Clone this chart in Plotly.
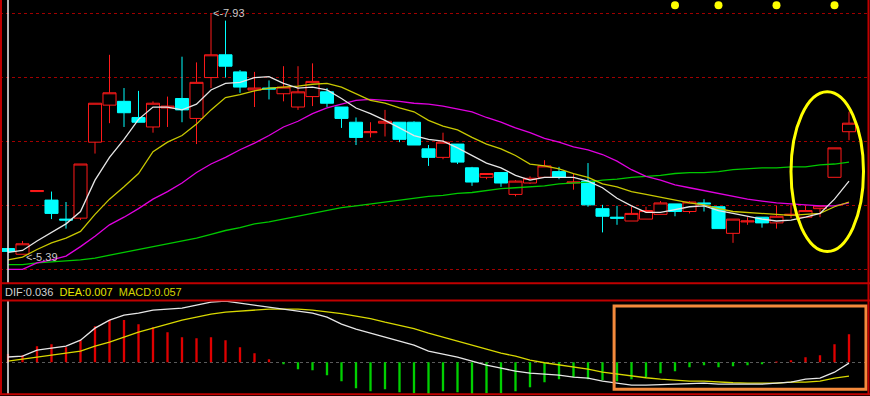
import plotly.graph_objects as go

# ---------------- data ----------------
idx = list(range(59))

opens = [5.45, 5.39, 6.05, 5.96, 5.76, 5.77, 6.57, 6.96, 7.00, 6.83, 6.73, 6.93, 7.03, 6.82, 7.25,
         7.49, 7.31, 7.12, 7.14, 7.08, 6.94, 7.05, 7.10, 6.94, 6.78, 6.67, 6.77, 6.78, 6.78, 6.50,
         6.41, 6.55, 6.30, 6.20, 6.25, 6.02, 6.14, 6.20, 6.26, 6.14, 6.16, 5.87, 5.78, 5.74, 5.76,
         5.81, 5.92, 5.84, 5.93, 5.89, 5.61, 5.73, 5.78, 5.72, 5.80, 5.78, 5.87, 6.20, 6.68]
highs = [5.45, 5.53, 6.06, 6.05, 5.94, 6.34, 6.98, 7.49, 7.14, 7.11, 7.00, 7.05, 7.47, 7.41, 7.93,
         7.85, 7.33, 7.31, 7.22, 7.37, 7.37, 7.40, 7.14, 6.94, 6.83, 6.78, 6.91, 6.78, 6.79, 6.54,
         6.67, 6.55, 6.31, 6.24, 6.25, 6.17, 6.21, 6.38, 6.31, 6.24, 6.35, 5.91, 5.90, 5.89, 5.89,
         5.95, 5.92, 5.95, 5.97, 5.89, 5.76, 5.78, 5.78, 5.90, 5.91, 5.90, 5.90, 6.51, 6.89]
lows = [5.42, 5.39, 6.05, 5.76, 5.66, 5.75, 6.45, 6.77, 6.73, 6.78, 6.67, 6.73, 6.78, 6.55, 7.14,
        7.25, 7.09, 6.94, 7.02, 7.00, 6.91, 6.95, 6.94, 6.72, 6.54, 6.62, 6.63, 6.57, 6.54, 6.32,
        6.39, 6.34, 6.11, 6.18, 6.10, 6.00, 6.13, 6.20, 6.18, 6.07, 5.89, 5.62, 5.70, 5.74, 5.76,
        5.81, 5.79, 5.82, 5.84, 5.66, 5.51, 5.70, 5.67, 5.66, 5.77, 5.78, 5.78, 6.20, 6.59]
closes = [5.42, 5.50, 6.06, 5.82, 5.75, 6.34, 6.98, 7.09, 6.88, 6.78, 6.98, 6.95, 6.91, 7.20, 7.49,
          7.37, 7.15, 7.14, 7.13, 7.15, 7.10, 7.21, 6.98, 6.82, 6.62, 6.68, 6.79, 6.60, 6.54, 6.41,
          6.57, 6.36, 6.15, 6.24, 6.14, 6.16, 6.19, 6.32, 6.20, 6.15, 5.91, 5.79, 5.77, 5.82, 5.85,
          5.93, 5.84, 5.94, 5.92, 5.66, 5.76, 5.74, 5.72, 5.79, 5.81, 5.85, 5.90, 6.51, 6.77]

ma5 = [5.41, 5.43, 5.53, 5.62, 5.71, 5.84, 6.17, 6.41, 6.60, 6.81, 6.94, 6.94, 6.91, 6.97, 7.12,
       7.19, 7.20, 7.25, 7.26, 7.19, 7.14, 7.15, 7.12, 7.03, 6.93, 6.87, 6.80, 6.72, 6.64, 6.60,
       6.58, 6.51, 6.43, 6.35, 6.30, 6.22, 6.17, 6.20, 6.20, 6.20, 6.16, 6.09, 5.98, 5.90, 5.83,
       5.83, 5.86, 5.89, 5.90, 5.85, 5.82, 5.79, 5.76, 5.74, 5.75, 5.78, 5.82, 5.97, 6.16]
ma10 = [5.33, 5.36, 5.44, 5.51, 5.56, 5.63, 5.81, 5.97, 6.10, 6.24, 6.47, 6.57, 6.64, 6.76, 6.91,
        7.04, 7.07, 7.11, 7.14, 7.15, 7.16, 7.18, 7.19, 7.15, 7.08, 7.01, 6.98, 6.93, 6.89, 6.80,
        6.74, 6.70, 6.62, 6.55, 6.50, 6.43, 6.34, 6.32, 6.29, 6.24, 6.20, 6.13, 6.10, 6.05, 6.02,
        5.99, 5.96, 5.93, 5.91, 5.87, 5.84, 5.83, 5.82, 5.81, 5.80, 5.81, 5.82, 5.89, 5.94]
ma20 = [5.23, 5.23, 5.30, 5.33, 5.37, 5.47, 5.58, 5.70, 5.78, 5.87, 5.97, 6.05, 6.14, 6.25, 6.34,
        6.41, 6.49, 6.56, 6.64, 6.73, 6.79, 6.87, 6.93, 6.97, 7.01, 7.02, 7.01, 7.00, 6.98, 6.97,
        6.95, 6.92, 6.89, 6.83, 6.78, 6.72, 6.67, 6.61, 6.57, 6.52, 6.49, 6.44, 6.37, 6.28, 6.21,
        6.17, 6.12, 6.09, 6.06, 6.03, 6.00, 5.97, 5.95, 5.93, 5.92, 5.91, 5.90, 5.90, 5.93]
ma60 = [5.28, 5.28, 5.30, 5.31, 5.32, 5.33, 5.35, 5.38, 5.41, 5.44, 5.47, 5.50, 5.53, 5.56, 5.60,
        5.64, 5.67, 5.71, 5.73, 5.76, 5.79, 5.82, 5.85, 5.88, 5.90, 5.92, 5.94, 5.96, 5.98, 6.00,
        6.01, 6.03, 6.04, 6.06, 6.08, 6.09, 6.10, 6.11, 6.13, 6.14, 6.15, 6.17, 6.18, 6.20, 6.21,
        6.22, 6.24, 6.25, 6.25, 6.26, 6.28, 6.29, 6.30, 6.30, 6.31, 6.31, 6.33, 6.34, 6.36]

dif = [0.036, 0.042, 0.084, 0.098, 0.112, 0.154, 0.238, 0.294, 0.329, 0.343, 0.364, 0.371, 0.378,
       0.399, 0.420, 0.427, 0.413, 0.399, 0.385, 0.368, 0.354, 0.343, 0.315, 0.266, 0.231, 0.203,
       0.175, 0.147, 0.119, 0.077, 0.056, 0.035, 0.007, -0.021, -0.042, -0.063, -0.077, -0.084,
       -0.091, -0.105, -0.112, -0.133, -0.147, -0.161, -0.161, -0.158, -0.154, -0.154, -0.147,
       -0.154, -0.154, -0.154, -0.154, -0.147, -0.140, -0.119, -0.112, -0.070, -0.007]
dea = [0.007, 0.021, 0.035, 0.049, 0.063, 0.077, 0.112, 0.140, 0.175, 0.210, 0.238, 0.266, 0.294,
       0.315, 0.336, 0.350, 0.357, 0.368, 0.371, 0.371, 0.371, 0.364, 0.354, 0.340, 0.322, 0.305,
       0.280, 0.259, 0.235, 0.203, 0.175, 0.147, 0.119, 0.091, 0.063, 0.042, 0.014, -0.004,
       -0.018, -0.032, -0.049, -0.070, -0.084, -0.098, -0.109, -0.119, -0.126, -0.133, -0.133,
       -0.140, -0.144, -0.147, -0.147, -0.147, -0.140, -0.140, -0.133, -0.112, -0.098]
macd = [0.057, 0.049, 0.112, 0.126, 0.105, 0.154, 0.252, 0.294, 0.294, 0.266, 0.245, 0.210, 0.175,
        0.168, 0.175, 0.154, 0.105, 0.063, 0.021, -0.014, -0.049, -0.056, -0.091, -0.133, -0.182,
        -0.203, -0.189, -0.210, -0.217, -0.224, -0.203, -0.210, -0.231, -0.217, -0.217, -0.203,
        -0.175, -0.140, -0.119, -0.105, -0.119, -0.126, -0.133, -0.119, -0.105, -0.077, -0.063,
        -0.035, -0.021, -0.035, -0.028, -0.021, -0.014, 0.003, 0.014, 0.035, 0.049, 0.126, 0.196]

signal_idx = [46, 49, 53, 57]
hi_label, lo_label = "<-7.93", "<-5.39"
hi_idx, lo_idx = 14, 1
readout = ("DIF:0.036", "DEA:0.007", "MACD:0.057")

# ---------------- styling ----------------
RED = "#ff1a1a"
CYAN = "#00ffff"
BORDER = "#c00000"
GRID = "#a00000"
W, H = 870, 396
x_lo, x_hi = -0.5517, 59.448
FONT = "Liberation Sans"

fig = go.Figure()

fig.add_trace(go.Candlestick(
    x=idx, open=opens, high=highs, low=lows, close=closes,
    increasing=dict(line=dict(color=RED, width=1), fillcolor="#000000"),
    decreasing=dict(line=dict(color=CYAN, width=1), fillcolor=CYAN),
    whiskerwidth=0, hoverinfo="skip", xaxis="x", yaxis="y"))

for vals, col in [(ma60, "#00c800"), (ma20, "#e000e0"), (ma10, "#c8c800"), (ma5, "#e6e6e6")]:
    fig.add_trace(go.Scatter(x=idx, y=vals, mode="lines", line=dict(color=col, width=1.3),
                             hoverinfo="skip", xaxis="x", yaxis="y"))

fig.add_trace(go.Scatter(x=signal_idx, y=[8.012] * len(signal_idx), mode="markers",
                         marker=dict(color="#ffff00", size=8), cliponaxis=False,
                         hoverinfo="skip", xaxis="x", yaxis="y"))

fig.add_trace(go.Bar(x=idx, y=macd, width=0.16,
                     marker=dict(color=["#e00000" if v >= 0 else "#00d000" for v in macd],
                                 line=dict(width=0)),
                     hoverinfo="skip", xaxis="x2", yaxis="y2"))
fig.add_trace(go.Scatter(x=idx, y=dea, mode="lines", line=dict(color="#d8d800", width=1.3),
                         hoverinfo="skip", xaxis="x2", yaxis="y2"))
fig.add_trace(go.Scatter(x=idx, y=dif, mode="lines", line=dict(color="#e6e6e6", width=1.3),
                         hoverinfo="skip", xaxis="x2", yaxis="y2"))

main_top, main_bot = 8.067, 5.084
grid_vals = [7.93 - k * 0.6746 for k in range(5)]

shapes = []
# cursor line
shapes.append(dict(type="line", xref="x", yref="y domain", x0=0, x1=0, y0=0, y1=1,
                   line=dict(color="#f0f0f0", width=1.5), layer="above"))
shapes.append(dict(type="line", xref="x2", yref="y2 domain", x0=0, x1=0, y0=0, y1=1,
                   line=dict(color="#f0f0f0", width=1.5), layer="above"))
# highlight ellipse and rectangle
shapes.append(dict(type="circle", xref="x", yref="y", x0=54.0, x1=59.0, y0=5.42, y1=7.10,
                   line=dict(color="#ffff00", width=3), layer="above"))
shapes.append(dict(type="rect", xref="x2", yref="y2", x0=41.8, x1=59.17, y0=-0.189, y1=0.392,
                   line=dict(color="#f58a3c", width=3), layer="above"))
# panel borders
def px(x):
    return x / W
def py(y):
    return 1 - y / H
for y in (283.3, 300.6, 394.2):
    shapes.append(dict(type="line", xref="paper", yref="paper", x0=0, x1=1, y0=py(y), y1=py(y),
                       line=dict(color=BORDER, width=2), layer="above"))
for x in (1, 868.5):
    shapes.append(dict(type="line", xref="paper", yref="paper", x0=px(x), x1=px(x), y0=py(394.2), y1=1,
                       line=dict(color=BORDER, width=2), layer="above"))

annotations = [
    dict(xref="x", yref="y", x=hi_idx, y=7.93, text=hi_label, showarrow=False,
         xanchor="left", yanchor="middle", xshift=0, font=dict(family=FONT, size=11, color="#c8c8c8")),
    dict(xref="x", yref="y", x=lo_idx, y=5.39, text=lo_label, showarrow=False,
         xanchor="left", yanchor="middle", xshift=1, yshift=-3,
         font=dict(family=FONT, size=11, color="#c8c8c8")),
    dict(xref="paper", yref="paper", x=px(3), y=py(292), xanchor="left", yanchor="middle",
         showarrow=False, font=dict(family=FONT, size=11),
         text=(f"<span style='color:#d2d2d2'>{readout[0]}</span>&nbsp;&nbsp;"
               f"<span style='color:#e6e600'>{readout[1]}</span>&nbsp;&nbsp;"
               f"<span style='color:#d4d400'>{readout[2]}</span>")),
]

fig.update_layout(
    width=W, height=H, margin=dict(l=0, r=0, t=0, b=0),
    paper_bgcolor="#000000", plot_bgcolor="#000000", showlegend=False,
    boxgap=0.1, boxgroupgap=0,
    xaxis=dict(domain=[0, 1], range=[x_lo, x_hi], visible=False, anchor="y",
               rangeslider=dict(visible=False), fixedrange=True),
    yaxis=dict(domain=[1 - 283.3 / H, 1], range=[main_bot, main_top], tickvals=grid_vals,
               showticklabels=False, showgrid=True, gridcolor=GRID, griddash="dot", gridwidth=1,
               zeroline=False, showline=False, anchor="x", fixedrange=True),
    xaxis2=dict(domain=[0, 1], range=[x_lo, x_hi], visible=False, anchor="y2", fixedrange=True),
    yaxis2=dict(domain=[1 - 394.2 / H, 1 - 300.6 / H], range=[-0.224, 0.4305], tickvals=[0],
                showticklabels=False, showgrid=True, gridcolor="#5a5a5a", griddash="dot",
                zeroline=False, showline=False, anchor="x2", fixedrange=True),
    shapes=shapes, annotations=annotations,
)

fig.write_html("out.html")
